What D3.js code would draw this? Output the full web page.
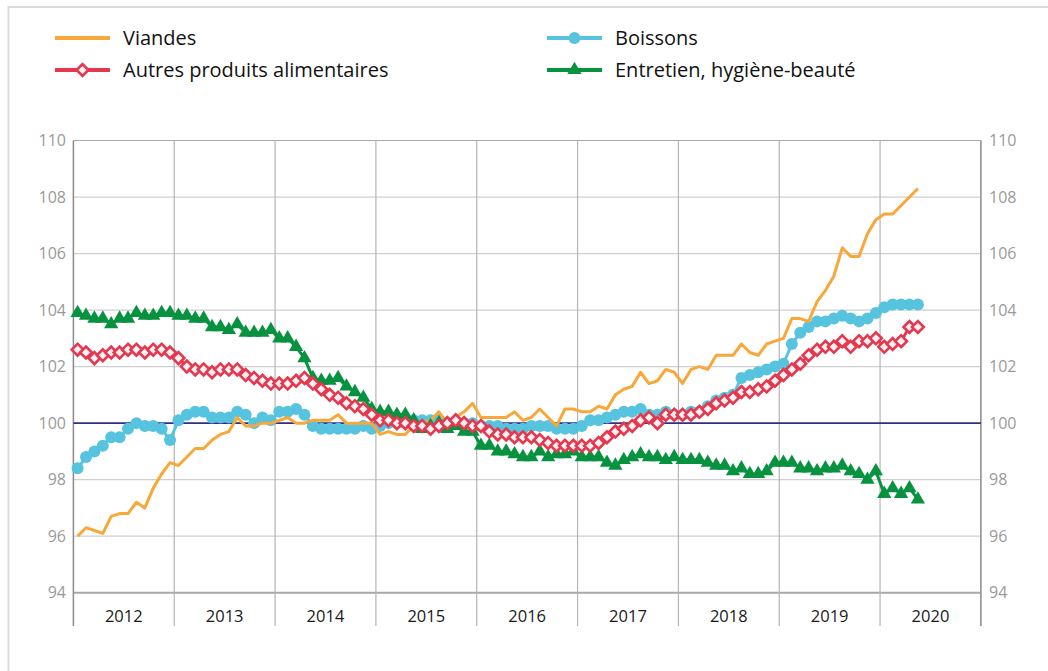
<!DOCTYPE html>
<html>
<head>
<meta charset="utf-8">
<script src="https://cdn.jsdelivr.net/npm/d3@7"></script>
<style>
  body { margin: 0; background: #fff; }
  svg { display: block; font-family: "Open Sans", "Noto Sans", sans-serif; }
</style>
</head>
<body>
<svg id="chart" width="1048" height="671"></svg>
<script>
// monthly indices, Jan 2012 -> May 2020
var years = ["2012", "2013", "2014", "2015", "2016", "2017", "2018", "2019", "2020"];
var yTicks = [94, 96, 98, 100, 102, 104, 106, 108, 110];

var viandes = [
  96.0, 96.3, 96.2, 96.1, 96.7, 96.8, 96.8, 97.2, 97.0, 97.7, 98.2, 98.6,
  98.5, 98.8, 99.1, 99.1, 99.4, 99.6, 99.7, 100.2, 99.9, 99.9, 100.0, 100.0,
  100.1, 100.2, 100.0, 100.0, 100.1, 100.1, 100.1, 100.3, 100.0, 100.0, 100.0, 100.0,
  99.6, 99.7, 99.6, 99.6, 99.9, 100.0, 100.1, 100.4, 100.0, 100.2, 100.4, 100.7,
  100.2, 100.2, 100.2, 100.2, 100.4, 100.1, 100.2, 100.5, 100.2, 99.9, 100.5, 100.5,
  100.4, 100.4, 100.6, 100.5, 101.0, 101.2, 101.3, 101.8, 101.4, 101.5, 101.9, 101.8,
  101.4, 101.9, 102.0, 101.9, 102.4, 102.4, 102.4, 102.8, 102.5, 102.4, 102.8, 102.9,
  103.0, 103.7, 103.7, 103.6, 104.3, 104.7, 105.2, 106.2, 105.9, 105.9, 106.7, 107.2,
  107.4, 107.4, 107.7, 108.0, 108.3
];

var boissons = [
  98.4, 98.8, 99.0, 99.2, 99.5, 99.5, 99.8, 100.0, 99.9, 99.9, 99.8, 99.4,
  100.1, 100.3, 100.4, 100.4, 100.2, 100.2, 100.2, 100.4, 100.3, 100.0, 100.2, 100.1,
  100.4, 100.4, 100.5, 100.3, 99.9, 99.8, 99.8, 99.8, 99.8, 99.8, 99.9, 99.8,
  99.9, 100.0, 100.0, 100.0, 100.1, 100.1, 100.1, 100.1, 100.0, 100.0, 100.0, 100.0,
  99.9, 99.9, 99.9, 99.8, 99.8, 99.8, 99.9, 99.9, 99.9, 99.8, 99.8, 99.8,
  99.9, 100.1, 100.1, 100.2, 100.3, 100.4, 100.4, 100.5, 100.3, 100.3, 100.4, 100.3,
  100.3, 100.4, 100.4, 100.6, 100.8, 100.9, 101.0, 101.6, 101.7, 101.8, 101.9, 102.0,
  102.1, 102.8, 103.2, 103.4, 103.6, 103.6, 103.7, 103.8, 103.7, 103.6, 103.7, 103.9,
  104.1, 104.2, 104.2, 104.2, 104.2
];

var autres = [
  102.6, 102.5, 102.3, 102.4, 102.5, 102.5, 102.6, 102.6, 102.5, 102.6, 102.6, 102.5,
  102.3, 102.0, 101.9, 101.9, 101.8, 101.9, 101.9, 101.9, 101.7, 101.6, 101.5, 101.4,
  101.4, 101.4, 101.5, 101.6, 101.4, 101.2, 101.0, 100.9, 100.7, 100.6, 100.5, 100.3,
  100.1, 100.1, 100.0, 100.0, 99.9, 99.9, 99.8, 99.9, 100.0, 100.1, 100.0, 99.9,
  99.9, 99.7, 99.6, 99.6, 99.5, 99.5, 99.5, 99.4, 99.3, 99.2, 99.2, 99.2,
  99.2, 99.2, 99.3, 99.5, 99.7, 99.8, 99.9, 100.1, 100.2, 100.0, 100.3, 100.3,
  100.3, 100.3, 100.4, 100.5, 100.7, 100.8, 100.9, 101.1, 101.1, 101.2, 101.3, 101.5,
  101.7, 101.9, 102.1, 102.4, 102.6, 102.7, 102.7, 102.9, 102.7, 102.9, 102.9, 103.0,
  102.7, 102.8, 102.9, 103.4, 103.4
];

var entretien = [
  103.9, 103.8, 103.7, 103.7, 103.5, 103.7, 103.7, 103.9, 103.8, 103.8, 103.9, 103.9,
  103.8, 103.8, 103.7, 103.7, 103.4, 103.4, 103.3, 103.5, 103.2, 103.2, 103.2, 103.3,
  103.0, 103.0, 102.7, 102.3, 101.6, 101.5, 101.5, 101.6, 101.3, 101.1, 100.9, 100.5,
  100.4, 100.4, 100.3, 100.3, 100.1, 99.8, 99.9, 100.0, 99.8, 99.9, 99.7, 99.7,
  99.2, 99.2, 99.0, 99.0, 98.9, 98.8, 98.8, 99.0, 98.8, 98.9, 98.9, 99.0,
  98.8, 98.8, 98.8, 98.6, 98.5, 98.7, 98.8, 98.9, 98.8, 98.8, 98.7, 98.8,
  98.7, 98.7, 98.7, 98.6, 98.5, 98.5, 98.3, 98.4, 98.2, 98.2, 98.3, 98.6,
  98.6, 98.6, 98.4, 98.4, 98.3, 98.4, 98.4, 98.5, 98.3, 98.2, 98.0, 98.3,
  97.5, 97.7, 97.5, 97.7, 97.3
];

var svg = d3.select("#chart");

// light frame round the figure
svg.append("rect")
  .attr("x", 8.5).attr("y", 7)
  .attr("width", 1100).attr("height", 700)
  .attr("fill", "none")
  .attr("stroke", "#dcdcdc")
  .attr("stroke-width", 2);

// plot box (note: "top" is taken by window.top, so prefixed names)
var plotLeft = 73.4, plotRight = 980.9, plotTop = 140.5, plotBottom = 592.7;

// x over months, each point sits in the middle of its month
var x = d3.scaleLinear().domain([0, years.length * 12]).range([plotLeft, plotRight]);
var y = d3.scaleLinear().domain([94, 110]).range([plotBottom, plotTop]);

// horizontal grid
svg.append("g")
  .selectAll("line")
  .data(yTicks.filter(function(t) { return t != 100; }))
  .enter().append("line")
  .attr("x1", plotLeft).attr("x2", plotRight)
  .attr("y1", function(d) { return y(d); })
  .attr("y2", function(d) { return y(d); })
  .attr("stroke", function(d) { return (d == 94 || d == 110) ? "#a8a8a8" : "#cfcfcf"; })
  .attr("stroke-width", function(d) { return d == 94 ? 2 : 1.2; });

// year separators, running down into the label band
svg.append("g")
  .selectAll("line")
  .data(d3.range(years.length + 1))
  .enter().append("line")
  .attr("x1", function(d) { return x(d * 12); })
  .attr("x2", function(d) { return x(d * 12); })
  .attr("y1", plotTop).attr("y2", 626)
  .attr("stroke", function(d) { return (d == 0 || d == years.length) ? "#8a8a8a" : "#b4b4b4"; })
  .attr("stroke-width", function(d) { return (d == 0 || d == years.length) ? 1.5 : 1.2; });

// reference line at 100
svg.append("line")
  .attr("x1", plotLeft).attr("x2", plotRight)
  .attr("y1", y(100)).attr("y2", y(100))
  .attr("stroke", "#2e2f86")
  .attr("stroke-width", 1.8);

// y labels both sides
var yl = svg.append("g").attr("font-size", 16).attr("fill", "#9a9a9a");
yl.selectAll(".yl")
  .data(yTicks).enter().append("text")
  .attr("x", 66).attr("y", function(d) { return y(d); })
  .attr("dy", "0.35em")
  .attr("text-anchor", "end")
  .text(function(d) { return d; });
yl.selectAll(".yr")
  .data(yTicks).enter().append("text")
  .attr("x", 989).attr("y", function(d) { return y(d); })
  .attr("dy", "0.35em")
  .text(function(d) { return d; });

// year labels
svg.append("g")
  .selectAll("text")
  .data(years).enter().append("text")
  .attr("x", function(d, i) { return x(i * 12 + 6); })
  .attr("y", 616)
  .attr("dy", "0.35em")
  .attr("text-anchor", "middle")
  .attr("font-size", 16.5)
  .attr("fill", "#1a1a1a")
  .text(function(d) { return d; });

var line = d3.line()
  .x(function(d, i) { return x(i + 0.5); })
  .y(function(d) { return y(d); });

var series = [
  { name: "Boissons", values: boissons, color: "#56c3df", marker: "circle" },
  { name: "Viandes", values: viandes, color: "#f8a839", marker: null },
  { name: "Entretien, hygiène-beauté", values: entretien, color: "#07923f", marker: "triangle" },
  { name: "Autres produits alimentaires", values: autres, color: "#e5384f", marker: "diamond" }
];

var triangle = d3.symbol().type(d3.symbolTriangle).size(88);
var diamond = d3.symbol().type(d3.symbolSquare).size(70);

function drawMarker(g, kind, color) {
  if (kind == "circle") {
    g.append("circle").attr("r", 6).attr("fill", color);
  } else if (kind == "triangle") {
    g.append("path").attr("d", triangle).attr("fill", color);
  } else if (kind == "diamond") {
    g.append("path").attr("d", diamond)
      .attr("transform", "rotate(45)")
      .attr("fill", "#fdf0f2")
      .attr("stroke", color)
      .attr("stroke-width", 2.6);
  }
}

var plot = svg.append("g");
series.forEach(function(s) {
  plot.append("path")
    .datum(s.values)
    .attr("d", line)
    .attr("fill", "none")
    .attr("stroke", s.color)
    .attr("stroke-width", 3)
    .attr("stroke-linejoin", "round");

  if (s.marker) {
    plot.append("g")
      .selectAll("g")
      .data(s.values).enter().append("g")
      .attr("transform", function(d, i) { return "translate(" + x(i + 0.5) + "," + y(d) + ")"; })
      .each(function() { drawMarker(d3.select(this), s.marker, s.color); });
  }
});

// legend, two columns
var legendItems = [
  { name: "Viandes", color: "#f8a839", marker: null, lx: 55, ly: 38 },
  { name: "Boissons", color: "#56c3df", marker: "circle", lx: 547, ly: 38 },
  { name: "Autres produits alimentaires", color: "#e5384f", marker: "diamond", lx: 55, ly: 70 },
  { name: "Entretien, hygiène-beauté", color: "#07923f", marker: "triangle", lx: 547, ly: 70 }
];

var legend = svg.append("g");
legendItems.forEach(function(l) {
  var g = legend.append("g").attr("transform", "translate(" + l.lx + "," + l.ly + ")");
  g.append("line")
    .attr("x1", 0).attr("x2", 55)
    .attr("stroke", l.color)
    .attr("stroke-width", 4);
  if (l.marker) {
    drawMarker(g.append("g").attr("transform", "translate(27.5,0)"), l.marker, l.color);
  }
  g.append("text")
    .attr("x", 68)
    .attr("dy", "0.35em")
    .attr("font-size", 20)
    .attr("fill", "#111")
    .text(l.name);
});
</script>
</body>
</html>
